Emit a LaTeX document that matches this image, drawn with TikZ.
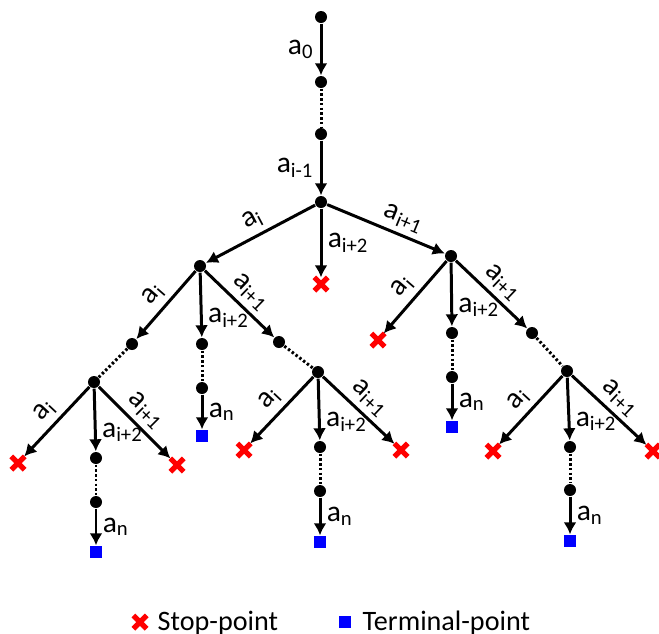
\documentclass[tikz,border=0pt]{standalone}
\usepackage{fontspec}
\setmainfont{Carlito}
\usetikzlibrary{arrows.meta,shapes.misc}
\tikzset{
	pnt/.style={circle,fill=black,inner sep=0pt,minimum size=0.12cm},
	stopx/.style={cross out,draw=red,line width=1.5pt,inner sep=0pt,minimum size=0.08cm},
	term/.style={rectangle,fill=blue,inner sep=0pt,minimum size=0.12cm},
	arr/.style={-{Latex[length=0.12cm,width=0.13cm]},line width=0.85pt},
	dots/.style={line width=0.85pt,dash pattern=on 0.7pt off 0.65pt},
	lab/.style={font=\fontsize{8.4}{9}\selectfont,inner sep=1.5pt},
	legtxt/.style={font=\fontsize{8}{9}\selectfont,inner sep=0pt,anchor=base west}
}
\begin{document}
\begin{tikzpicture}[x=0.01cm,y=-0.01cm]
	\useasboundingbox (0,0) rectangle (659,633);
	\node[pnt] (n0) at (321,17) {};
	\node[pnt] (n1) at (321,82) {};
	\node[pnt] (n2) at (321,134) {};
	\node[pnt] (r) at (321,202) {};
	\node[stopx] (rx) at (321,284) {};
	\node[pnt] (p) at (200,266) {};
	\node[pnt] (q) at (451,256) {};
	\node[pnt] (p1) at (132,344) {};
	\node[pnt] (p2) at (202,344) {};
	\node[pnt] (p3) at (279,342) {};
	\node[pnt] (p1a) at (94,382) {};
	\node[pnt] (p2a) at (202,388) {};
	\node[term] (p2t) at (202,436) {};
	\node[pnt] (p3a) at (318,372) {};
	\node[stopx] (p1x) at (18,463) {};
	\node[pnt] (p1b) at (96,458) {};
	\node[pnt] (p1c) at (96,502) {};
	\node[term] (p1t) at (96,552) {};
	\node[stopx] (p1y) at (177,465) {};
	\node[stopx] (p3x) at (244,450) {};
	\node[pnt] (p3b) at (320,447) {};
	\node[pnt] (p3c) at (320,491) {};
	\node[term] (p3t) at (320,542) {};
	\node[stopx] (p3y) at (401,450) {};
	\node[stopx] (qx) at (378,340) {};
	\node[pnt] (q2) at (452,333) {};
	\node[pnt] (q2a) at (452,377) {};
	\node[term] (q2t) at (452,427) {};
	\node[pnt] (q3) at (532,333) {};
	\node[pnt] (q3a) at (567,371) {};
	\node[stopx] (q3x) at (493,451) {};
	\node[pnt] (q3b) at (570,447) {};
	\node[pnt] (q3c) at (570,490) {};
	\node[term] (q3t) at (570,541) {};
	\node[stopx] (q3y) at (653,451) {};
	\foreach \a/\b in {n1/n2, p1/p1a, p2/p2a, p3/p3a, p1b/p1c, p3b/p3c, q2/q2a, q3/q3a, q3b/q3c}
	\draw[dots] (\a) -- (\b);
	\draw[arr] (n0) -- (n1) node[lab,midway,left] {a\textsubscript{0}};
	\draw[arr] (n2) -- (r) node[lab,midway,left] {a\textsubscript{i-1}};
	\draw[arr] (r) -- (rx) node[lab,pos=0.5,right] {a\textsubscript{i+2}};
	\draw[arr] (r) -- (p) node[lab,midway,above,sloped] {a\textsubscript{i}};
	\draw[arr] (r) -- (q) node[lab,pos=0.6,above,sloped] {a\textsubscript{i+1}};
	\draw[arr] (p) -- (p1) node[lab,midway,above,sloped] {a\textsubscript{i}};
	\draw[arr] (p) -- (p2) node[lab,pos=0.7,right] {a\textsubscript{i+2}};
	\draw[arr] (p) -- (p3) node[lab,midway,above,sloped] {a\textsubscript{i+1}};
	\draw[arr] (p2a) -- (p2t) node[lab,midway,right] {a\textsubscript{n}};
	\draw[arr] (p1a) -- (p1x) node[lab,midway,above,sloped] {a\textsubscript{i}};
	\draw[arr] (p1a) -- (p1b) node[lab,pos=0.7,right] {a\textsubscript{i+2}};
	\draw[arr] (p1a) -- (p1y) node[lab,midway,above,sloped] {a\textsubscript{i+1}};
	\draw[arr] (p1c) -- (p1t) node[lab,midway,right] {a\textsubscript{n}};
	\draw[arr] (p3a) -- (p3x) node[lab,midway,above,sloped] {a\textsubscript{i}};
	\draw[arr] (p3a) -- (p3b) node[lab,pos=0.7,right] {a\textsubscript{i+2}};
	\draw[arr] (p3a) -- (p3y) node[lab,midway,above,sloped] {a\textsubscript{i+1}};
	\draw[arr] (p3c) -- (p3t) node[lab,midway,right] {a\textsubscript{n}};
	\draw[arr] (q) -- (qx) node[lab,midway,above,sloped] {a\textsubscript{i}};
	\draw[arr] (q) -- (q2) node[lab,pos=0.7,right] {a\textsubscript{i+2}};
	\draw[arr] (q) -- (q3) node[lab,midway,above,sloped] {a\textsubscript{i+1}};
	\draw[arr] (q2a) -- (q2t) node[lab,midway,right] {a\textsubscript{n}};
	\draw[arr] (q3a) -- (q3x) node[lab,midway,above,sloped] {a\textsubscript{i}};
	\draw[arr] (q3a) -- (q3b) node[lab,pos=0.7,right] {a\textsubscript{i+2}};
	\draw[arr] (q3a) -- (q3y) node[lab,midway,above,sloped] {a\textsubscript{i+1}};
	\draw[arr] (q3c) -- (q3t) node[lab,midway,right] {a\textsubscript{n}};
	\node[stopx] (k1) at (140,622) {};
	\node[legtxt] (k1t) at (157,630) {Stop-point};
	\node[term] (k2) at (345,622) {};
	\node[legtxt] (k2t) at (362,630) {Terminal-point};
\end{tikzpicture}
\end{document}
